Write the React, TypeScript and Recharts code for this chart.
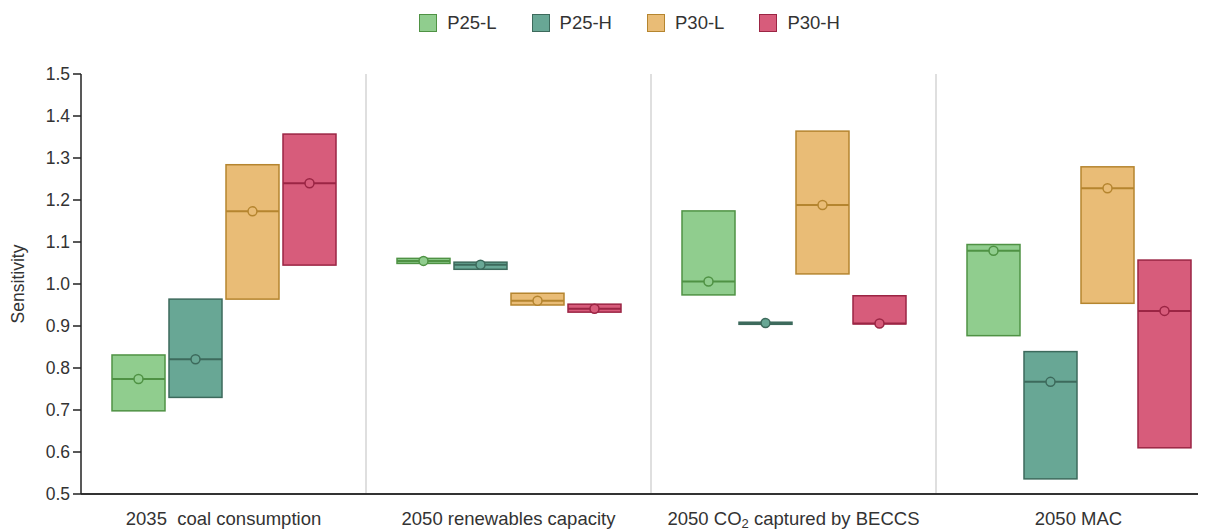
import React from "react";
import { ComposedChart, Bar, XAxis, YAxis, CartesianGrid, Legend } from "recharts";

const categories = ["2035  coal consumption", "2050 renewables capacity", "2050 CO₂ captured by BECCS", "2050 MAC"];
const yTicks = [0.5, 0.6, 0.7, 0.8, 0.9, 1.0, 1.1, 1.2, 1.3, 1.4, 1.5];

// each entry: [low, median, high] per category
const p25L = [[0.698, 0.774, 0.831], [1.049, 1.055, 1.061], [0.974, 1.006, 1.174], [0.877, 1.079, 1.094]];
const p25H = [[0.730, 0.821, 0.964], [1.035, 1.046, 1.052], [0.904, 0.907, 0.909], [0.536, 0.767, 0.839]];
const p30L = [[0.964, 1.173, 1.284], [0.950, 0.960, 0.978], [1.024, 1.188, 1.364], [0.954, 1.228, 1.279]];
const p30H = [[1.045, 1.240, 1.357], [0.933, 0.941, 0.952], [0.905, 0.906, 0.972], [0.610, 0.936, 1.057]];

const series = [
  { key: "p25L", name: "P25-L", values: p25L, fill: "#90cd8e", stroke: "#4f9244" },
  { key: "p25H", name: "P25-H", values: p25H, fill: "#68a795", stroke: "#3d6a5c" },
  { key: "p30L", name: "P30-L", values: p30L, fill: "#e9bc76", stroke: "#b5852f" },
  { key: "p30H", name: "P30-H", values: p30H, fill: "#d75c7b", stroke: "#9b2544" },
];

const data = categories.map((cat, i) => {
  const row: any = { cat };
  series.forEach((s) => (row[s.key] = s.values[i]));
  return row;
});

const makeShape = (key: string, fill: string, stroke: string) => (props: any) => {
  const { x, y, width, height, payload } = props;
  const [lo, med, hi] = payload[key];
  const top = Math.min(y, y + height);
  const h = Math.abs(height);
  const my = top + (hi > lo ? (h * (hi - med)) / (hi - lo) : 0);
  return (
    <g>
      <rect x={x} y={top} width={width} height={h} fill={fill} stroke={stroke} strokeWidth={1.5} />
      <line x1={x} x2={x + width} y1={my} y2={my} stroke={stroke} strokeWidth={2} />
      <circle cx={x + width / 2} cy={my} r={4.5} fill={fill} stroke={stroke} strokeWidth={1.5} />
    </g>
  );
};

const CategoryTick = ({ x, y, payload }: any) => {
  const parts = String(payload.value).split("₂");
  return (
    <text x={x} y={y + 23} textAnchor="middle" fontSize={18.5} fill="#333" style={{ whiteSpace: "pre" }}>
      {parts.length > 1 ? (
        <>
          {parts[0]}
          <tspan fontSize={13} dy={3}>2</tspan>
          <tspan dy={-3}>{parts[1]}</tspan>
        </>
      ) : (
        parts[0]
      )}
    </text>
  );
};

const LegendContent = () => (
  <div style={{ height: 28, display: "flex", alignItems: "center", justifyContent: "center", paddingLeft: 30 }}>
    {series.map((s, i) => (
      <div key={s.key} style={{ display: "flex", alignItems: "center", marginRight: i < series.length - 1 ? 35 : 0 }}>
        <span style={{ width: 16, height: 16, background: s.fill, border: `1.5px solid ${s.stroke}`, marginRight: 10 }} />
        <span style={{ fontSize: 18.5, color: "#333" }}>{s.name}</span>
      </div>
    ))}
  </div>
);

export default function App() {
  return (
    <div style={{ width: 1198, height: 522, overflow: "hidden", fontFamily: "'Liberation Sans', Arial, sans-serif" }}>
      <ComposedChart
        width={1213}
        height={522}
        data={data}
        margin={{ top: 38, right: 0, bottom: 0, left: 0 }}
        barSize={53}
        barGap={4}
      >
        <CartesianGrid
          horizontal={false}
          stroke="#d4d4d4"
          strokeWidth={1.5}
          verticalCoordinatesGenerator={({ offset }: any) =>
            [1, 2, 3].map((i) => offset.left + (offset.width * i) / categories.length)
          }
        />
        <Legend verticalAlign="top" wrapperStyle={{ top: 1 }} content={<LegendContent />} />
        <XAxis
          dataKey="cat"
          height={36}
          tickLine={false}
          axisLine={{ stroke: "#333", strokeWidth: 2 }}
          tick={<CategoryTick />}
          interval={0}
        />
        <YAxis
          width={73}
          domain={[0.5, 1.5]}
          ticks={yTicks}
          allowDataOverflow
          tickFormatter={(v: number) => v.toFixed(1)}
          tick={{ fontSize: 17.5, fill: "#333" }}
          tickSize={8}
          tickMargin={3}
          axisLine={{ stroke: "#222", strokeWidth: 1.5 }}
          tickLine={{ stroke: "#222", strokeWidth: 1.5 }}
          label={{ value: "Sensitivity", angle: -90, position: "insideLeft", offset: 10, style: { textAnchor: "middle", fontSize: 17.5, fill: "#333" } }}
        />
        {series.map((s) => (
          <Bar
            key={s.key}
            name={s.name}
            dataKey={(row: any) => [row[s.key][0], row[s.key][2]]}
            fill={s.fill}
            shape={makeShape(s.key, s.fill, s.stroke)}
            isAnimationActive={false}
          />
        ))}
      </ComposedChart>
    </div>
  );
}
